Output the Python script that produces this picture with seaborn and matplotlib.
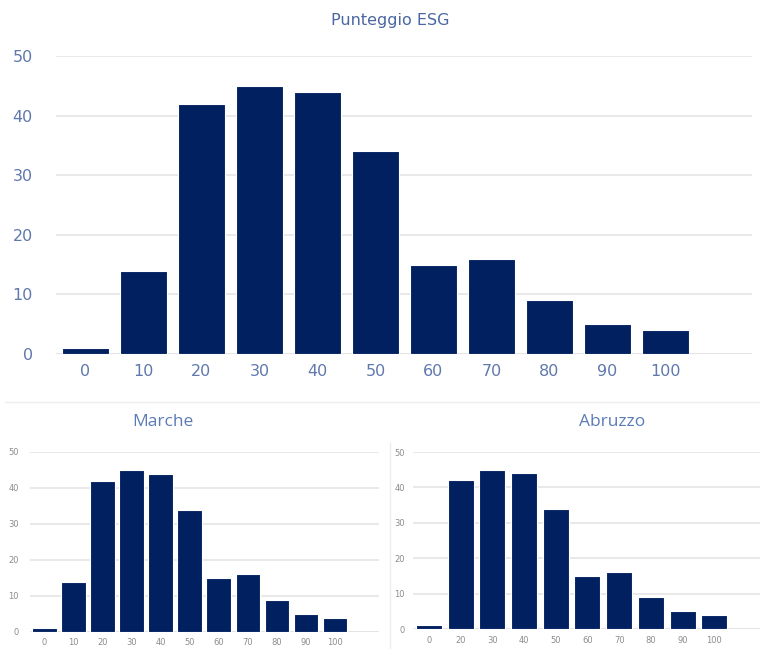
import matplotlib
matplotlib.use("Agg")
import matplotlib.pyplot as plt
from matplotlib.lines import Line2D
import pandas as pd
import seaborn as sns

# Score classes and counts
classes_all = ["0", "10", "20", "30", "40", "50", "60", "70", "80", "90", "100"]
counts_esg = [1, 14, 42, 45, 44, 34, 15, 16, 9, 5, 4]
counts_marche = [1, 14, 42, 45, 44, 34, 15, 16, 9, 5, 4]
classes_abruzzo = ["0", "20", "30", "40", "50", "60", "70", "80", "90", "100"]
counts_abruzzo = [1, 42, 45, 44, 34, 15, 16, 9, 5, 4]
y_ticks = [0, 10, 20, 30, 40, 50]

BAR = "#002060"
GRID = "#e3e3e3"
TITLE_BLUE = "#4a67a3"
TICK_BLUE = "#5f78ad"
TICK_GREY = "#8c8c8c"

sns.set_theme(style="white")
plt.rcParams["font.family"] = ["DejaVu Sans"]

fig = plt.figure(figsize=(7.6, 6.49), dpi=100)


def draw(ax, cats, vals, width, tick_color, tick_size, ypad, xpad):
    df = pd.DataFrame({"classe": cats, "n": vals})
    sns.barplot(data=df, x="classe", y="n", order=cats, color=BAR,
                saturation=1, width=width, edgecolor="white", linewidth=0.8,
                ax=ax, zorder=3)
    ax.set_xlim(-0.5, len(cats) + 0.5)
    ax.set_ylim(0, 50)
    ax.set_yticks(y_ticks)
    ax.yaxis.grid(True, color=GRID, linewidth=1.1, zorder=0)
    ax.xaxis.grid(False)
    for s in ax.spines.values():
        s.set_visible(False)
    ax.axhline(0, color=GRID, linewidth=1.1, zorder=1)
    ax.set_xlabel("")
    ax.set_ylabel("")
    ax.tick_params(axis="both", length=0, colors=tick_color,
                   labelsize=tick_size)
    ax.tick_params(axis="y", pad=ypad)
    ax.tick_params(axis="x", pad=xpad)
    ax.set_facecolor("none")


ax_top = fig.add_axes([0.0743, 0.4545, 0.9158, 0.4592])
draw(ax_top, classes_all, counts_esg, 0.81, TICK_BLUE, 11.5, 17, 7)
fig.text(390 / 760, 1 - 20 / 649, "Punteggio ESG", ha="center", va="center",
         color=TITLE_BLUE, fontsize=11.5)

ax_bl = fig.add_axes([0.0395, 0.0262, 0.4586, 0.2774])
draw(ax_bl, classes_all, counts_marche, 0.85, TICK_GREY, 6, 8, 4)
fig.text(163 / 760, 1 - 422 / 649, "Marche", ha="center", va="center",
         color="#5b7bb7", fontsize=12.5, family=["Open Sans", "DejaVu Sans"])

ax_br = fig.add_axes([0.5434, 0.0308, 0.4592, 0.2727])
draw(ax_br, classes_abruzzo, counts_abruzzo, 0.82, TICK_GREY, 6, 6, 5)
fig.text(612 / 760, 1 - 422 / 649, "Abruzzo", ha="center", va="center",
         color="#5b7bb7", fontsize=12.5, family=["Open Sans", "DejaVu Sans"])

# Frame lines separating the lower panels
fig.add_artist(Line2D([5 / 760, 1.0], [1 - 402 / 649] * 2,
                      color="#eeeeee", linewidth=1.0))
fig.add_artist(Line2D([390 / 760] * 2, [0.0, 1 - 442 / 649],
                      color="#eeeeee", linewidth=1.0))

fig.savefig("out.png", dpi=100, facecolor="white")
